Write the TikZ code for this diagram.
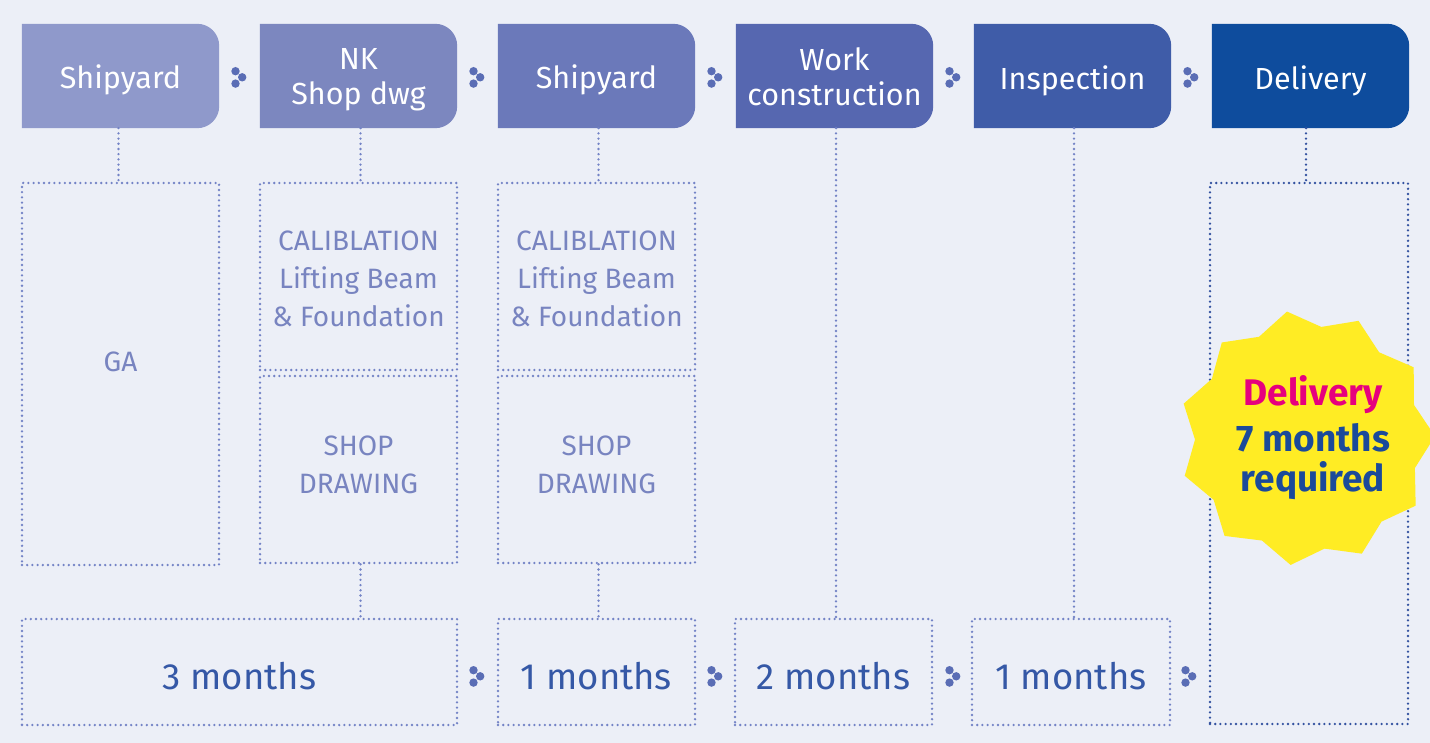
\documentclass[tikz,border=0pt]{standalone}
\usepackage{fontspec}
\setmainfont{Fira Sans}
\definecolor{bg}{HTML}{ECEFF7}
\definecolor{hA}{HTML}{8F99CB}
\definecolor{hB}{HTML}{7C87BF}
\definecolor{hC}{HTML}{6B79BA}
\definecolor{hD}{HTML}{5667B0}
\definecolor{hE}{HTML}{3F5CA8}
\definecolor{hF}{HTML}{0E4C9D}
\definecolor{dotc}{HTML}{7383C6}
\definecolor{dotd}{HTML}{3352A0}
\definecolor{boxtxt}{HTML}{7884C0}
\definecolor{montxt}{HTML}{3558A6}
\definecolor{symc}{HTML}{5A6DB5}
\definecolor{staryel}{HTML}{FFEC24}
\definecolor{magent}{HTML}{E6007E}
\definecolor{navy}{HTML}{1B4A9A}
\tikzset{
  x=1pt, y=-1pt,
  hdr/.style={minimum width=197pt, minimum height=104pt, inner sep=0pt, text=white, align=center,
    font=\fontsize{30.5}{35}\selectfont},
  dotline/.style={draw=#1, line width=2.6pt, line cap=round, dash pattern=on 0pt off 5.2pt},
  dotbox/.style={dotline=dotc, inner sep=0pt, text=boxtxt, align=center, font=\fontsize{28}{38}\selectfont},
  lbl/.style={text=boxtxt, align=center, font=\fontsize{28}{38}\selectfont, inner sep=0pt},
  monbox/.style={dotline=dotc, inner sep=0pt},
  montext/.style={text=montxt, font=\fontsize{36.5}{40}\selectfont, inner sep=0pt},
}
\newcommand{\hdrfill}[2]{%
  \fill[#2] (#1.north west) -- ([xshift=-22pt]#1.north east) arc[start angle=90,end angle=0,radius=22pt]
    -- ([yshift=22pt]#1.south east) arc[start angle=0,end angle=-90,radius=22pt] -- (#1.south west) -- cycle;}
\newcommand{\trio}[1]{%
  \fill[symc] ([shift={(-3.5pt,5.8pt)}]#1) circle[radius=4.2pt]
              ([shift={(-3.5pt,-6.6pt)}]#1) circle[radius=4.2pt]
              ([shift={(3.2pt,-0.3pt)}]#1) circle[radius=4.2pt];}
\begin{document}
\begin{tikzpicture}
\fill[bg] (0,0) rectangle (1430,743);
\useasboundingbox (0,0) rectangle (1430,743);

% header nodes (shapes)
\path (120.5,76) node[hdr] (h1) {}
      (358.5,76) node[hdr] (h2) {}
      (596.5,76) node[hdr] (h3) {}
      (834.5,76) node[hdr] (h4) {}
      (1072.5,76) node[hdr] (h5) {}
      (1310.5,76) node[hdr] (h6) {};
\hdrfill{h1}{hA}
\hdrfill{h2}{hB}
\hdrfill{h3}{hC}
\hdrfill{h4}{hD}
\hdrfill{h5}{hE}
\hdrfill{h6}{hF}
\node[hdr] (h1t) at ([yshift=-4pt]h1) {Shipyard};
\node[hdr] (h2t) at ([yshift=-4pt]h2) {NK\\Shop dwg};
\node[hdr] (h3t) at ([yshift=-4pt]h3) {Shipyard};
\node[hdr] (h4t) at ([yshift=-1pt]h4) {Work\\construction};
\node[hdr] (h5t) at ([yshift=-5pt]h5) {Inspection};
\node[hdr] (h6t) at ([yshift=-5pt]h6) {Delivery};

% dotted boxes
\node[dotbox, minimum width=197pt, minimum height=382pt] (ga) at (120.5,374) {};
\node[lbl] (gat) at (120.5,362) {GA};
\node[dotbox, minimum width=197pt, minimum height=187pt] (cal2) at (358.5,276.5) {};
\node[lbl] (cal2t) at (358.5,278.5) {CALIBLATION\\Lifting Beam\\\& Foundation};
\node[dotbox, minimum width=197pt, minimum height=187pt] (sd2) at (358.5,469.5) {};
\node[lbl] (sd2t) at (358.5,464.5) {SHOP\\DRAWING};
\node[dotbox, minimum width=197pt, minimum height=187pt] (cal3) at (596.5,276.5) {};
\node[lbl] (cal3t) at (596.5,278.5) {CALIBLATION\\Lifting Beam\\\& Foundation};
\node[dotbox, minimum width=197pt, minimum height=187pt] (sd3) at (596.5,469.5) {};
\node[lbl] (sd3t) at (596.5,464.5) {SHOP\\DRAWING};
\node[dotline=dotd, minimum width=198pt, minimum height=541pt, inner sep=0pt] (dl) at (1309,453.5) {};

% bottom months boxes
\node[monbox, minimum width=435pt, minimum height=106pt] (m3) at (239.5,672) {};
\node[monbox, minimum width=197pt, minimum height=106pt] (m1a) at (596.5,672) {};
\node[monbox, minimum width=197pt, minimum height=106pt] (m2) at (833.5,672) {};
\node[monbox, minimum width=198pt, minimum height=106pt] (m1b) at (1071,672) {};
\node[montext] at ([yshift=-4pt]m3) {3 months};
\node[montext] at ([yshift=-4pt]m1a) {1 months};
\node[montext] at ([yshift=-4pt]m2) {2 months};
\node[montext] at ([yshift=-4pt]m1b) {1 months};

% connectors
\draw[dotline=dotc] ([xshift=-2pt]h1.south) -- ([xshift=-2pt]h1.south |- ga.north);
\draw[dotline=dotc] ([xshift=2pt]h2.south) -- ([xshift=2pt]h2.south |- cal2.north);
\draw[dotline=dotc] ([xshift=2pt]h3.south) -- ([xshift=2pt]h3.south |- cal3.north);
\draw[dotline=dotc] ([xshift=1.5pt]h4.south) -- ([xshift=1.5pt]h4.south |- m2.north);
\draw[dotline=dotc] ([xshift=1.5pt]h5.south) -- ([xshift=1.5pt]h5.south |- m1b.north);
\draw[dotline=dotd] ([xshift=-4.5pt]h6.south) -- ([xshift=-4.5pt]h6.south |- dl.north);
\draw[dotline=dotc] ([xshift=2pt]sd2.south) -- ([xshift=2pt]sd2.south |- m3.north);
\draw[dotline=dotc] ([xshift=2pt]sd3.south) -- ([xshift=2pt]sd3.south |- m1a.north);

% flow symbols
\foreach \xx in {239,477,715,953,1191} {\coordinate (t\xx) at (\xx,77); \trio{t\xx}}
\foreach \xx in {477,715,953,1189} {\coordinate (b\xx) at (\xx,676); \trio{b\xx}}

% star
\coordinate (sc) at (1307,438);
\fill[staryel, shift={(sc)}] (99:128pt) \foreach \i in {1,...,21} { -- ({99+\i*360/22}:{(mod(\i,2)==0 ? 128 : 112)*1pt}) } -- cycle;
\node[align=center, font=\bfseries\fontsize{37}{40}\selectfont, text=navy, inner sep=0pt] (note) at (1313,438)
  {\textcolor{magent}{Delivery}\\[6pt]7 months\\required};
\end{tikzpicture}
\end{document}
